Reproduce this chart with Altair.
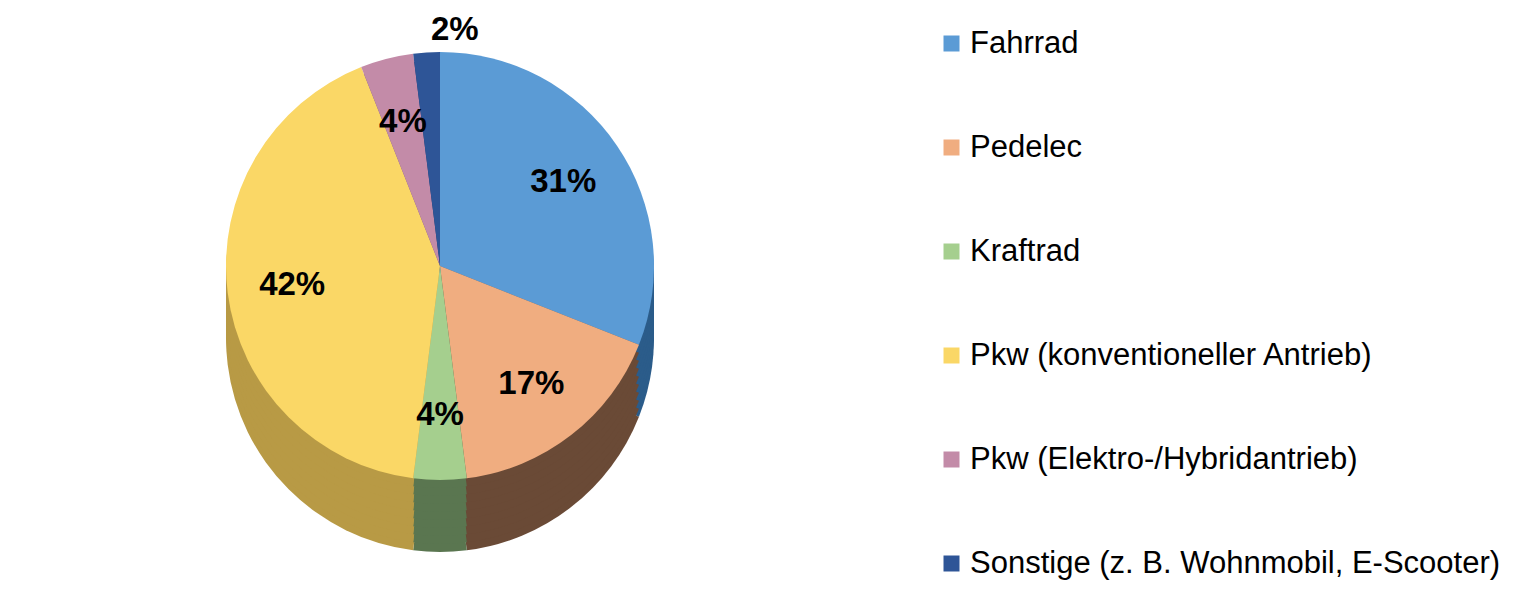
import altair as alt
import pandas as pd

categories = ["Fahrrad", "Pedelec", "Kraftrad", "Pkw (konventioneller Antrieb)",
              "Pkw (Elektro-/Hybridantrieb)", "Sonstige (z. B. Wohnmobil, E-Scooter)"]
values = [31, 17, 4, 42, 4, 2]
labels = ["31%", "17%", "4%", "42%", "4%", "2%"]
top_colors = ["#5B9BD5", "#F0AD80", "#A5CF8E", "#FAD766", "#C38BA8", "#2E5597"]
side_colors = ["#2B5C8A", "#6A4A36", "#5A7650", "#B89A45", "#7B5A6E", "#1E3A6A"]

df = pd.DataFrame({"cat": categories, "value": values, "label": labels,
                   "idx": list(range(len(values)))})

CX, CY, R, DEPTH = 432, 258, 214, 72

base = alt.Chart(df).encode(
    theta=alt.Theta("value:Q", stack=True),
    order=alt.Order("idx:Q"),
)

layers = []
for d in range(DEPTH, 0, -8):
    layers.append(
        base.mark_arc(radius=R).encode(
            color=alt.Color("cat:N", scale=alt.Scale(domain=categories, range=side_colors), legend=None),
            x=alt.value(CX), y=alt.value(CY + d),
        )
    )

top = base.mark_arc(radius=R).encode(
    color=alt.Color(
        "cat:N",
        scale=alt.Scale(domain=categories, range=top_colors),
        sort=categories,
        legend=alt.Legend(
            title=None, orient="none", legendX=928, legendY=20,
            symbolType="square", symbolSize=256, symbolStrokeWidth=0,
            labelFontSize=31, labelFont="Liberation Sans", labelColor="#000000",
            rowPadding=72, labelLimit=800, labelOffset=3, padding=0,
        ),
    ),
    x=alt.value(CX), y=alt.value(CY),
)

text = base.transform_calculate(
    r="datum.value < 3 ? " + str(R + 22) + " : " + str(int(R * 0.7))
).mark_text(fontSize=33, fontWeight="bold", font="Liberation Sans", color="#000000").encode(
    text="label:N",
    radius=alt.Radius("r:Q", scale=None),
    x=alt.value(CX), y=alt.value(CY),
)

chart = alt.layer(*layers, top, text).resolve_scale(color="independent").properties(
    width=1500, height=577,
    autosize=alt.AutoSizeParams(type="none"),
    padding=0,
).configure_view(stroke=None)

chart.save("out.html", embed_options={"renderer": "svg", "actions": False})
